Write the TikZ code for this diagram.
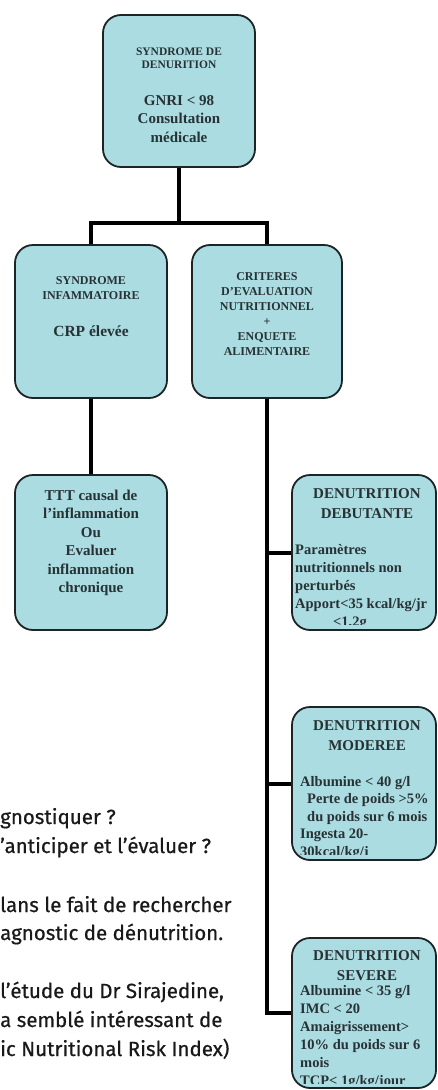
\documentclass[tikz,border=0pt]{standalone}
\usepackage{fontspec}
\setmainfont{Liberation Serif}
\newfontfamily\artfont[FakeBold=0.6]{Fira Sans}
\definecolor{boxfill}{RGB}{170,220,226}
\definecolor{boxline}{RGB}{28,36,38}
\definecolor{boxtext}{RGB}{40,50,52}
\definecolor{arttext}{RGB}{25,25,25}
\begin{document}
\begin{tikzpicture}[x=1pt,y=-1pt,
  bbox/.style={draw=boxline,line width=1.8pt,fill=boxfill,rounded corners=18pt,inner sep=0pt},
  conn/.style={draw=black,line width=4pt,line join=miter},
  ctxt/.style={inner sep=0pt,text=boxtext,align=center,anchor=north},
  ltxt/.style={inner sep=0pt,text=boxtext,align=left,anchor=north west},
  art/.style={inner sep=0pt,text=arttext,anchor=base west,font={\artfont\fontsize{20.5}{29}\selectfont}}]
\useasboundingbox (0,0) rectangle (437,1090);

% boxes
\node[bbox,minimum width=152pt,minimum height=152pt] (top) at (179,91) {};
\node[bbox,minimum width=152pt,minimum height=153pt] (inf) at (91,321.5) {};
\node[bbox,minimum width=150pt,minimum height=153pt] (crit) at (267,321.5) {};
\node[bbox,minimum width=152pt,minimum height=155pt] (ttt) at (91,552.5) {};
\node[bbox,minimum width=144pt,minimum height=155pt] (deb) at (364,552.5) {};
\node[bbox,minimum width=144pt,minimum height=153pt] (mod) at (364,783.5) {};
\node[bbox,minimum width=144pt,minimum height=150pt] (sev) at (364,1013) {};

% connectors
\coordinate (split) at (179,223);
\draw[conn] (top.south) -- (split);
\draw[conn] (inf.north) |- (split) -| (crit.north);
\draw[conn] (inf.south) -- (ttt.north);
\draw[conn] (crit.south) |- (sev.west);
\draw[conn] (deb.west) -- (deb.west -| crit.south);
\draw[conn] (mod.west) -- (mod.west -| crit.south);

% box texts
\node[ctxt,font={\bfseries\fontsize{11.5}{13}\selectfont}] (toptitle) at (179,47.4) {SYNDROME DE\\DENURITION};
\node[ctxt,font={\bfseries\fontsize{15}{18.5}\selectfont}] (topmain) at (179,95) {GNRI < 98\\Consultation\\médicale};

\node[ctxt,font={\bfseries\fontsize{12}{15}\selectfont}] (inftitle) at (91,276) {SYNDROME\\INFAMMATOIRE};
\node[ctxt,font={\bfseries\fontsize{15.5}{18}\selectfont}] (infmain) at (91,326) {CRP élevée};

\node[ctxt,font={\bfseries\fontsize{12}{15}\selectfont}] (crittxt) at (267,272) {CRITERES\\D’EVALUATION\\NUTRITIONNEL\\+\\ENQUETE\\ALIMENTAIRE};

\node[ctxt,font={\bfseries\fontsize{15}{18.4}\selectfont}] (ttttxt) at (91,489.8) {TTT causal de\\l’inflammation\\Ou\\Evaluer\\inflammation\\chronique};

\node[ctxt,font={\bfseries\fontsize{15}{20}\selectfont}] (debtitle) at (367,488) {DENUTRITION\\DEBUTANTE};
\begin{scope}
\clip[rounded corners=12pt] ([xshift=0.9pt,yshift=6pt]deb.south west) rectangle ([xshift=-0.9pt,yshift=-0.9pt]deb.north east);
\node[ltxt,font={\bfseries\fontsize{14.5}{18}\selectfont}] (debbody) at (295,544.5) {Paramètres\\nutritionnels non\\perturbés\\Apport<35 kcal/kg/jr};
\node[inner sep=0pt,text=boxtext,anchor=base west,font={\bfseries\fontsize{14.5}{18}\selectfont}] (debextra) at (333,626.5) {<1,2g};
\end{scope}

\node[ctxt,font={\bfseries\fontsize{15}{20}\selectfont}] (modtitle) at (367,720) {DENUTRITION\\MODEREE};
\begin{scope}
\clip[rounded corners=12pt] ([xshift=0.9pt,yshift=6pt]mod.south west) rectangle ([xshift=-0.9pt,yshift=-0.9pt]mod.north east);
\node[ltxt,font={\bfseries\fontsize{14.5}{17.5}\selectfont}] (modbody) at (300,776) {Albumine < 40 g/l\\\hspace*{7pt}Perte de poids >5\%\\\hspace*{7pt}du poids sur 6 mois\\Ingesta 20-\\30kcal/kg/j};
\end{scope}

\node[ctxt,font={\bfseries\fontsize{15}{20}\selectfont}] (sevtitle) at (367,950) {DENUTRITION\\SEVERE};
\begin{scope}
\clip[rounded corners=12pt] ([xshift=0.9pt,yshift=5pt]sev.south west) rectangle ([xshift=-0.9pt,yshift=-0.9pt]sev.north east);
\node[ltxt,font={\bfseries\fontsize{14.5}{18}\selectfont}] (sevbody) at (300,985.4) {Albumine < 35 g/l\\IMC < 20\\Amaigrissement>\\10\% du poids sur 6\\mois\\TCP< 1g/kg/jour};
\end{scope}

% article text fragments
\node[art] (a1) at (0,824) {gnostiquer ?};
\node[art] (a2) at (0,853) {’anticiper et l’évaluer ?};
\node[art] (a3) at (0,912) {lans le fait de rechercher};
\node[art] (a4) at (0,940) {agnostic de dénutrition.};
\node[art] (a5) at (0,998) {l’étude du Dr Sirajedine,};
\node[art] (a6) at (0,1027) {a semblé intéressant de};
\node[art] (a7) at (0,1056) {ic Nutritional Risk Index)};
\end{tikzpicture}
\end{document}
